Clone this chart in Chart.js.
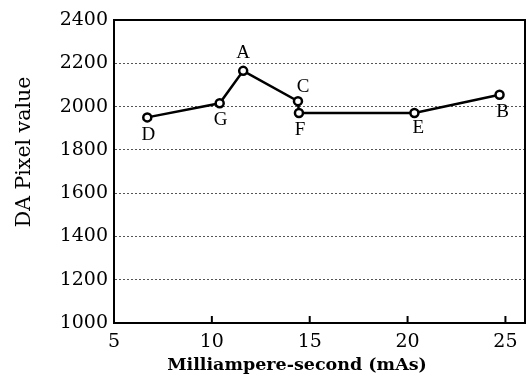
<!DOCTYPE html>
<html>
<head>
<meta charset="utf-8">
<script src="https://cdn.jsdelivr.net/npm/chart.js@4"></script>
<style>
  html, body { margin: 0; padding: 0; background: #fff; }
  #wrap { width: 526px; height: 376px; }
</style>
</head>
<body>
<div id="wrap"><canvas id="c" width="526" height="376"></canvas></div>
<script>
// Data
const pointLabels = ['D', 'G', 'A', 'C', 'F', 'E', 'B'];
const mAs = [6.7, 10.4, 11.6, 14.4, 14.45, 20.35, 24.7];
const daPixel = [1950, 2015, 2165, 2025, 1970, 1970, 2055];
const xTicks = [5, 10, 15, 20, 25];
const yTicks = [1000, 1200, 1400, 1600, 1800, 2000, 2200, 2400];
const xTitle = 'Milliampere-second (mAs)';
const yTitle = 'DA Pixel value';

// Label placement offsets (style)
const labelOffsets = {
  D: [1, 18], G: [1, 17], A: [0, -18], C: [5, -14],
  F: [1, 17], E: [4, 15], B: [3, 17]
};

const serif = "'DejaVu Serif', 'Liberation Serif', serif";

const framePlugin = {
  id: 'frame',
  afterDraw(chart) {
    const { ctx, chartArea: a, scales } = chart;
    ctx.save();
    ctx.strokeStyle = '#000';
    ctx.lineWidth = 2;
    ctx.strokeRect(a.left, a.top, a.right - a.left, a.bottom - a.top);
    // inward x tick marks
    xTicks.slice(1).forEach(v => {
      const px = scales.x.getPixelForValue(v);
      ctx.beginPath();
      ctx.moveTo(px, a.bottom);
      ctx.lineTo(px, a.bottom - 7);
      ctx.stroke();
    });
    // point letter labels
    ctx.fillStyle = '#000';
    ctx.font = "19px 'Liberation Serif', serif";
    ctx.textAlign = 'center';
    ctx.textBaseline = 'middle';
    const meta = chart.getDatasetMeta(0);
    meta.data.forEach((pt, i) => {
      const lab = pointLabels[i];
      const off = labelOffsets[lab] || [0, 0];
      ctx.fillText(lab, pt.x + off[0], pt.y + off[1]);
    });
    // x axis title
    ctx.font = "bold 17.5px " + serif;
    ctx.fillText(xTitle, 297, 365);
    // y axis title
    ctx.save();
    ctx.translate(25, 152);
    ctx.rotate(-Math.PI / 2);
    ctx.font = "20.5px " + serif;
    ctx.fillText(yTitle, 0, 0);
    ctx.restore();
    ctx.restore();
  }
};

new Chart(document.getElementById('c'), {
  type: 'line',
  data: {
    datasets: [{
      data: mAs.map((x, i) => ({ x: x, y: daPixel[i] })),
      borderColor: '#000',
      borderWidth: 2.5,
      backgroundColor: '#fff',
      pointBackgroundColor: '#fff',
      pointBorderColor: '#000',
      pointBorderWidth: 2.5,
      pointRadius: 4,
      tension: 0
    }]
  },
  options: {
    responsive: false,
    animation: false,
    devicePixelRatio: 1,
    layout: { autoPadding: false, padding: { left: 0, right: 1, top: 20, bottom: 0 } },
    plugins: { legend: { display: false }, tooltip: { enabled: false } },
    scales: {
      x: {
        type: 'linear',
        min: 5,
        max: 26,
        afterBuildTicks(scale) { scale.ticks = xTicks.map(v => ({ value: v })); },
        afterFit(scale) { scale.height = 53; scale.paddingLeft = 0; scale.paddingRight = 0; },
        grid: { display: false, drawTicks: false },
        border: { display: true, color: '#000', width: 2 },
        ticks: { color: '#000', padding: 8, maxRotation: 0, font: { family: serif, size: 19 },
                 callback: v => String(v) },
        title: { display: false }
      },
      y: {
        type: 'linear',
        min: 1000,
        max: 2400,
        afterBuildTicks(scale) { scale.ticks = yTicks.map(v => ({ value: v })); },
        afterFit(scale) { scale.width = 114; scale.paddingTop = 0; scale.paddingBottom = 0; },
        grid: {
          color: '#555',
          lineWidth: 1,
          drawTicks: false
        },
        border: { display: true, color: '#000', width: 2, dash: [2, 2] },
        ticks: { color: '#000', padding: 6, font: { family: serif, size: 19 },
                 callback: v => String(v) },
        title: { display: false }
      }
    }
  },
  plugins: [framePlugin]
});
</script>
</body>
</html>
